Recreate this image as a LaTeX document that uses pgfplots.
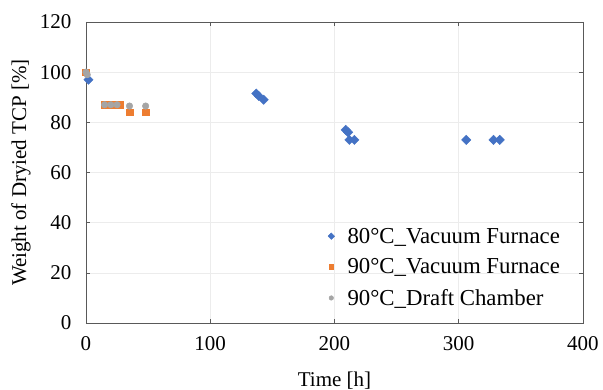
\documentclass[border=0pt]{standalone}
\usepackage{pgfplots}
\pgfplotsset{compat=1.18}
\usepackage{fontspec}
\setmainfont{Liberation Serif}
\definecolor{cblue}{HTML}{4472C4}
\definecolor{corange}{HTML}{ED7D31}
\definecolor{cgray}{HTML}{A5A5A5}
\begin{document}
\begin{tikzpicture}[x=1pt,y=1pt]
\useasboundingbox (-86,-67) rectangle (517,301+22);
\begin{axis}[
  at={(0,0)}, anchor=south west,
  scale only axis, width=497pt, height=301pt,
  xmin=0, xmax=400, ymin=0, ymax=120,
  xtick={0,100,...,400}, ytick={0,20,...,120},
  tick align=inside, major tick length=4pt,
  tick style={gray!70!black, line width=0.6pt},
  axis line style={gray!70!black, line width=0.8pt},
  grid=major, major grid style={gray!15, line width=0.6pt},
  font=\fontsize{21}{25}\selectfont,
  /pgf/number format/assume math mode=true,
  xticklabel style={yshift=-10pt},
  yticklabel style={xshift=-11pt},
  xlabel={Time [h]}, ylabel={Weight of Dryied TCP [\%]},
  xlabel style={at={(axis description cs:0.5,0)}, anchor=center, yshift=-58pt},
  ylabel style={at={(axis description cs:0,0.5)}, anchor=center, yshift=65pt},
  legend style={at={(0.956,0.05)}, anchor=south east, draw=none, fill=none,
    inner sep=0pt, nodes={inner sep=1pt},
    font=\fontsize{22.8}{27}\selectfont, row sep=12pt,
    /tikz/every odd column/.append style={column sep=12pt}},
  legend cell align=left,
  legend image code/.code={\draw[#1, mark size=2.3pt] plot coordinates {(0pt,0pt)};},
]
\addplot[only marks, mark=square*, mark options={rotate=45}, mark size=3.3pt, color=cblue]
  coordinates {(2,97) (137,91.5) (139,90.5) (143,89) (209,77) (211,76) (212,73) (216,73) (306,73) (328,73) (333,73)};
\addlegendentry{80°C\_Vacuum Furnace}
\addplot[only marks, mark=square*, mark size=3.3pt, color=corange]
  coordinates {(0,100) (15,87) (19,87) (23,87) (27,87) (35,84) (48,84)};
\addlegendentry{90°C\_Vacuum Furnace}
\addplot[only marks, mark=*, mark size=3.3pt, color=cgray]
  coordinates {(0,100) (1,99) (15,87) (20,87) (25,87) (35,86.5) (48,86.5)};
\addlegendentry{90°C\_Draft Chamber}
\end{axis}
\end{tikzpicture}
\end{document}
